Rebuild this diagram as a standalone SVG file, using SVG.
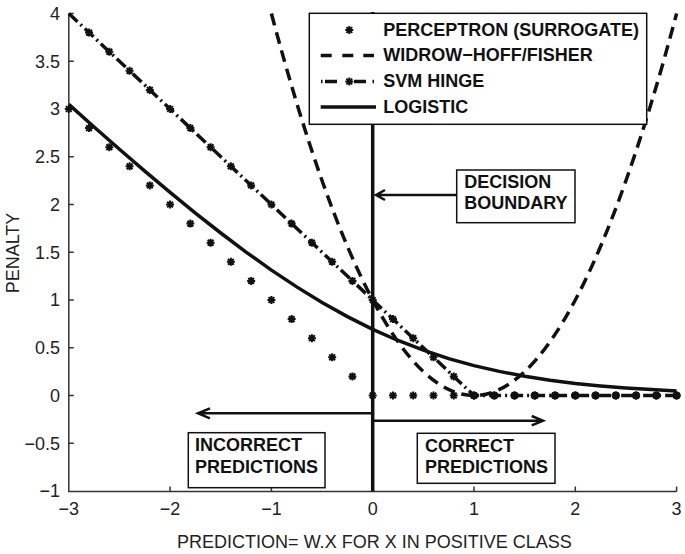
<svg xmlns="http://www.w3.org/2000/svg" xmlns:xlink="http://www.w3.org/1999/xlink" width="685" height="554" viewBox="0 0 685 554">
<style>
.ax{stroke:#333;stroke-width:1.5;fill:none}
.tk{font-family:"Liberation Sans",Arial,sans-serif;font-size:18px;fill:#222}
.ty{text-anchor:end}
.tx{text-anchor:middle}
.lbl{font-family:"Liberation Sans",Arial,sans-serif;font-size:18px;font-weight:bold;fill:#111}
.box{fill:#fff;stroke:#111;stroke-width:1.5}
.crv{fill:none;stroke:#111;stroke-width:3.5}
.arr{fill:none;stroke:#111;stroke-width:2.5}
</style>
<defs>
<path id="ast" d="M0,-4V4M-4,0H4M-2.9,-2.9L2.9,2.9M-2.9,2.9L2.9,-2.9" stroke="#111" stroke-width="2" fill="none"/>
<path id="dot" d="M0,-4V4M-4,0H4M-2.9,-2.9L2.9,2.9M-2.9,2.9L2.9,-2.9" stroke="#111" stroke-width="2.6" fill="none"/>
</defs>
<rect width="685" height="554" fill="#fff"/>

<g id="axes">
<path class="ax" d="M68.8,13.5V491.5H676.6"/>
<path class="ax" d="M68.8,13.5h5M68.8,61.3h5M68.8,109h5M68.8,156.8h5M68.8,204.5h5M68.8,252.3h5M68.8,300h5M68.8,347.8h5M68.8,395.5h5M68.8,443.3h5M170.1,491.5v-5M271.4,491.5v-5M372.7,491.5v-5M474,491.5v-5M575.3,491.5v-5M676.6,491.5v-5"/>
<text class="tk ty" x="60" y="20">4</text>
<text class="tk ty" x="60" y="67.7">3.5</text>
<text class="tk ty" x="60" y="115.4">3</text>
<text class="tk ty" x="60" y="163.2">2.5</text>
<text class="tk ty" x="60" y="210.9">2</text>
<text class="tk ty" x="60" y="258.7">1.5</text>
<text class="tk ty" x="60" y="306.4">1</text>
<text class="tk ty" x="60" y="354.2">0.5</text>
<text class="tk ty" x="60" y="401.9">0</text>
<text class="tk ty" x="60" y="449.7">−0.5</text>
<text class="tk ty" x="60" y="497.4">−1</text>
<text class="tk tx" x="68.8" y="515">−3</text>
<text class="tk tx" x="170.1" y="515">−2</text>
<text class="tk tx" x="271.4" y="515">−1</text>
<text class="tk tx" x="372.7" y="515">0</text>
<text class="tk tx" x="474" y="515">1</text>
<text class="tk tx" x="575.3" y="515">2</text>
<text class="tk tx" x="676.6" y="515">3</text>
<text class="tk tx" x="374.4" y="548">PREDICTION= W.X FOR X IN POSITIVE CLASS</text>
<text class="tk tx" transform="translate(19,253) rotate(-90)">PENALTY</text>
</g>

<g id="connectors">
<path id="decision-line" d="M372.7,12V491.5" stroke="#111" stroke-width="3.5" fill="none"/>
<path id="widrow-hoff" class="crv" stroke-dasharray="12 7" d="M271.4,13.5Q474,777.5 676.6,13.5"/>
<path id="svm-hinge" class="crv" stroke-dasharray="12 4 2 4" d="M68.8,13.5L474,395.5H676.6"/>
<polyline id="logistic" class="crv" points="68.8,104.4 94.1,127 119.45,149.2 144.8,171.1 170.1,192.4 195.4,213.1 220.75,233 246.1,252.1 271.4,270.1 296.7,286.9 322.05,302.5 347.4,316.6 372.7,329.3 398,340.5 423.35,350.2 448.7,358.6 474,365.6 499.3,371.4 524.65,376.3 550,380.2 575.3,383.4 600.6,385.9 625.95,388 651.3,389.6 676.6,390.9"/>
<g id="perceptron-markers">
<use xlink:href="#ast" x="68.8" y="109"/><use xlink:href="#ast" x="89.06" y="128.1"/><use xlink:href="#ast" x="109.32" y="147.2"/><use xlink:href="#ast" x="129.58" y="166.3"/><use xlink:href="#ast" x="149.84" y="185.4"/><use xlink:href="#ast" x="170.1" y="204.5"/><use xlink:href="#ast" x="190.36" y="223.6"/><use xlink:href="#ast" x="210.62" y="242.7"/><use xlink:href="#ast" x="230.88" y="261.8"/><use xlink:href="#ast" x="251.14" y="280.9"/><use xlink:href="#ast" x="271.4" y="300"/><use xlink:href="#ast" x="291.66" y="319.1"/><use xlink:href="#ast" x="311.92" y="338.2"/><use xlink:href="#ast" x="332.18" y="357.3"/><use xlink:href="#ast" x="352.44" y="376.4"/><use xlink:href="#ast" x="372.7" y="395.5"/><use xlink:href="#ast" x="392.96" y="395.5"/><use xlink:href="#ast" x="413.22" y="395.5"/><use xlink:href="#ast" x="433.48" y="395.5"/><use xlink:href="#ast" x="453.74" y="395.5"/><use xlink:href="#ast" x="474" y="395.5"/><use xlink:href="#ast" x="494.26" y="395.5"/><use xlink:href="#ast" x="514.52" y="395.5"/><use xlink:href="#ast" x="534.78" y="395.5"/><use xlink:href="#ast" x="555.04" y="395.5"/><use xlink:href="#ast" x="575.3" y="395.5"/><use xlink:href="#ast" x="595.56" y="395.5"/><use xlink:href="#ast" x="615.82" y="395.5"/><use xlink:href="#ast" x="636.08" y="395.5"/><use xlink:href="#ast" x="656.34" y="395.5"/><use xlink:href="#ast" x="676.6" y="395.5"/>
</g>
<g id="hinge-markers">
<use xlink:href="#ast" x="89.06" y="32.6"/><use xlink:href="#ast" x="109.32" y="51.7"/><use xlink:href="#ast" x="129.58" y="70.8"/><use xlink:href="#ast" x="149.84" y="89.9"/><use xlink:href="#ast" x="170.1" y="109"/><use xlink:href="#ast" x="190.36" y="128.1"/><use xlink:href="#ast" x="210.62" y="147.2"/><use xlink:href="#ast" x="230.88" y="166.3"/><use xlink:href="#ast" x="251.14" y="185.4"/><use xlink:href="#ast" x="271.4" y="204.5"/><use xlink:href="#ast" x="291.66" y="223.6"/><use xlink:href="#ast" x="311.92" y="242.7"/><use xlink:href="#ast" x="332.18" y="261.8"/><use xlink:href="#ast" x="352.44" y="280.9"/><use xlink:href="#ast" x="372.7" y="300"/><use xlink:href="#ast" x="392.96" y="319.1"/><use xlink:href="#ast" x="413.22" y="338.2"/><use xlink:href="#ast" x="433.48" y="357.3"/><use xlink:href="#ast" x="453.74" y="376.4"/>
<use xlink:href="#dot" x="474" y="395.5"/><use xlink:href="#dot" x="494.26" y="395.5"/><use xlink:href="#dot" x="514.52" y="395.5"/><use xlink:href="#dot" x="534.78" y="395.5"/><use xlink:href="#dot" x="555.04" y="395.5"/><use xlink:href="#dot" x="575.3" y="395.5"/><use xlink:href="#dot" x="595.56" y="395.5"/><use xlink:href="#dot" x="615.82" y="395.5"/><use xlink:href="#dot" x="636.08" y="395.5"/><use xlink:href="#dot" x="656.34" y="395.5"/><use xlink:href="#dot" x="676.6" y="395.5"/>
</g>
<g id="arrows">
<path class="arr" stroke-width="2" d="M456.7,195H376M385,190L376,195L385,200"/>
<path class="arr" d="M372.7,413.3H198M210,408.3L198,413.3L210,418.3"/>
<path class="arr" d="M374,420.7H543M531.7,416L543,420.7L531.7,425.4"/>
</g>
</g>

<g id="legend">
<rect class="box" x="309.3" y="13.3" width="337.4" height="111"/>
<use xlink:href="#ast" x="349.3" y="30"/>
<path d="M320.7,55.5H331.7M342.3,55.5H353.3M363.3,55.5H374" stroke="#111" stroke-width="3.5"/>
<path d="M321,81.5H322.5M325,81.5H337M354,81.5H366M372.5,81.5H374" stroke="#111" stroke-width="3.5"/>
<use xlink:href="#ast" x="349.3" y="81.5"/>
<path d="M320.7,107H376" stroke="#111" stroke-width="3.5"/>
<text class="lbl" x="383.3" y="35.5">PERCEPTRON (SURROGATE)</text>
<text class="lbl" x="383.3" y="61.3">WIDROW−HOFF/FISHER</text>
<text class="lbl" x="383.3" y="87">SVM HINGE</text>
<text class="lbl" x="383.3" y="113">LOGISTIC</text>
</g>

<g id="decision-boundary">
<rect class="box" x="456.7" y="170" width="118.3" height="52.7"/>
<text class="lbl" x="464.3" y="187.5">DECISION</text>
<text class="lbl" x="464.3" y="209.3">BOUNDARY</text>
</g>

<g id="incorrect-predictions">
<rect class="box" x="188.3" y="432.7" width="136.7" height="55"/>
<text class="lbl" x="195" y="451">INCORRECT</text>
<text class="lbl" x="195" y="472.8">PREDICTIONS</text>
</g>

<g id="correct-predictions">
<rect class="box" x="417.3" y="433.3" width="137.7" height="50"/>
<text class="lbl" x="425" y="451.7">CORRECT</text>
<text class="lbl" x="425" y="472.8">PREDICTIONS</text>
</g>
</svg>
